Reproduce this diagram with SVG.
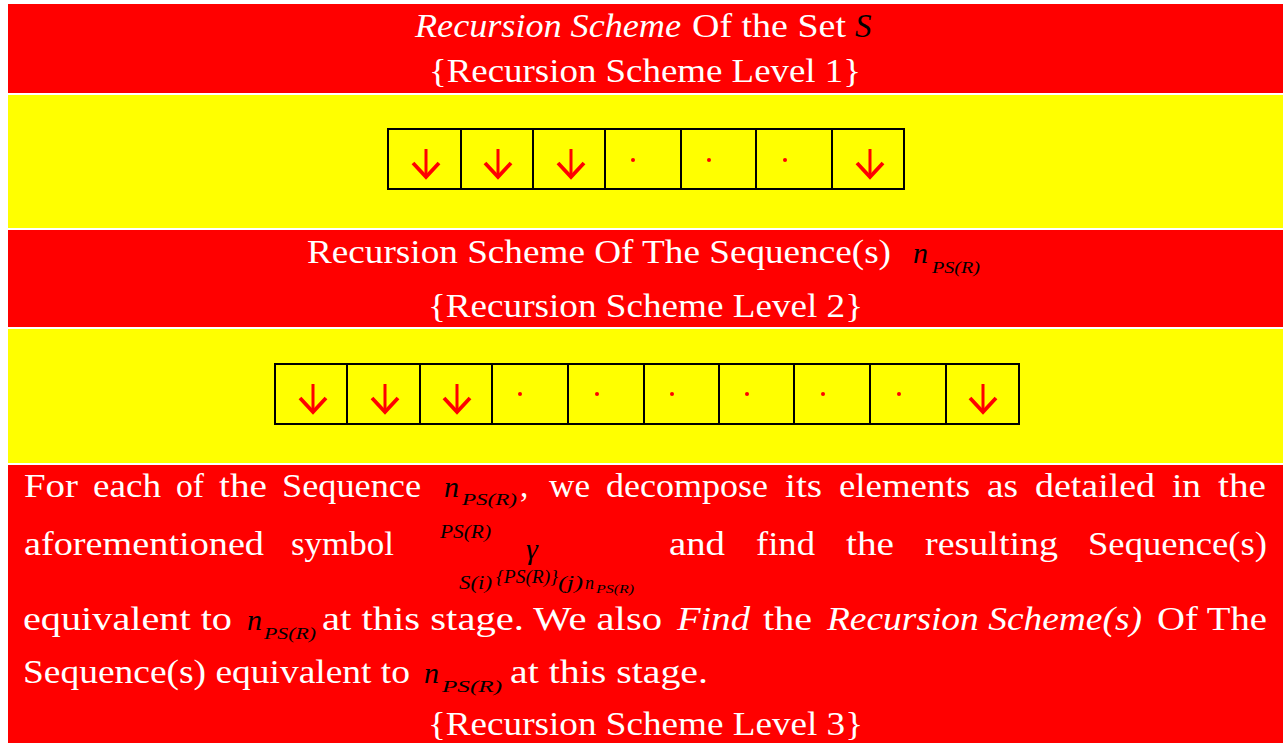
<svg xmlns="http://www.w3.org/2000/svg" xmlns:xlink="http://www.w3.org/1999/xlink" width="1283" height="743" viewBox="0 0 1283 743">
<style>
.red{fill:#FF0000}
.yel{fill:#FFFF00}
.t{font-family:'Liberation Serif','DejaVu Serif',serif;font-size:33px;fill:#FFFFFF}
.it{font-style:italic}
.m{font-family:'Liberation Serif','DejaVu Serif',serif;font-style:italic;fill:#000000}
.box{fill:none;stroke:#000000;stroke-width:2}
.div{stroke:#000000;stroke-width:2}
.dot{fill:#FF0000}
</style>
<defs>
<g id="arr">
<path d="M0,0 V28" fill="none" stroke="#FF0000" stroke-width="3"/>
<path d="M-13,14 L0,28 L13,14" fill="none" stroke="#FF0000" stroke-width="3.8" stroke-linejoin="miter"/>
</g>
</defs>
<rect width="1283" height="743" fill="#FFFFFF"/>

<g id="panel-level1-title">
<rect class="red" x="8" y="4" width="1275" height="89"/>
<text class="t it" font-family="Liberation Serif, DejaVu Serif, serif" x="415" y="37" textLength="266" lengthAdjust="spacingAndGlyphs">Recursion Scheme</text>
<text class="t" font-family="Liberation Serif, DejaVu Serif, serif" x="692" y="37" textLength="154" lengthAdjust="spacingAndGlyphs">Of the Set</text>
<text class="m" font-family="Liberation Serif, DejaVu Serif, serif" x="855" y="37" font-size="33">S</text>
<text class="t" font-family="Liberation Serif, DejaVu Serif, serif" x="429" y="82" textLength="432" lengthAdjust="spacingAndGlyphs">{Recursion Scheme Level 1}</text>
</g>

<g id="panel-level1-cells">
<rect class="yel" x="8" y="95" width="1275" height="133"/>
<rect class="box" x="388" y="129" width="516" height="60"/>
<path class="div" d="M461,129V189M533,129V189M605,129V189M681,129V189M756,129V189M832,129V189"/>
<use xlink:href="#arr" x="426" y="149"/>
<use xlink:href="#arr" x="498" y="149"/>
<use xlink:href="#arr" x="571" y="149"/>
<circle class="dot" cx="633" cy="160" r="2"/>
<circle class="dot" cx="709" cy="160" r="2"/>
<circle class="dot" cx="785" cy="160" r="2"/>
<use xlink:href="#arr" x="870" y="149"/>
</g>

<g id="panel-level2-title" font-family="Liberation Serif, DejaVu Serif, serif">
<rect class="red" x="8" y="230" width="1275" height="97"/>
<text class="t" x="307" y="263" textLength="584" lengthAdjust="spacingAndGlyphs">Recursion Scheme Of The Sequence(s)</text>
<text class="m" x="913" y="263" font-size="30">n</text>
<text class="m" x="932" y="273" font-size="16" textLength="48" lengthAdjust="spacingAndGlyphs">PS(R)</text>
<text class="t" x="428" y="317" textLength="435" lengthAdjust="spacingAndGlyphs">{Recursion Scheme Level 2}</text>
</g>

<g id="panel-level2-cells">
<rect class="yel" x="8" y="329" width="1275" height="134"/>
<rect class="box" x="275" y="364" width="744" height="60"/>
<path class="div" d="M347,364V424M420,364V424M492,364V424M568,364V424M644,364V424M719,364V424M794,364V424M870,364V424M946,364V424"/>
<use xlink:href="#arr" x="313" y="384"/>
<use xlink:href="#arr" x="385" y="384"/>
<use xlink:href="#arr" x="457" y="384"/>
<circle class="dot" cx="520" cy="394" r="2"/>
<circle class="dot" cx="597" cy="394" r="2"/>
<circle class="dot" cx="672" cy="394" r="2"/>
<circle class="dot" cx="747" cy="394" r="2"/>
<circle class="dot" cx="823" cy="394" r="2"/>
<circle class="dot" cx="899" cy="394" r="2"/>
<use xlink:href="#arr" x="983" y="384"/>
</g>

<g id="panel-level3-text" font-family="Liberation Serif, DejaVu Serif, serif">
<rect class="red" x="8" y="465" width="1275" height="278"/>
<text class="t" x="24" y="497" textLength="54" lengthAdjust="spacingAndGlyphs">For</text>
<text class="t" x="93" y="497" textLength="68" lengthAdjust="spacingAndGlyphs">each</text>
<text class="t" x="176" y="497" textLength="28" lengthAdjust="spacingAndGlyphs">of</text>
<text class="t" x="219" y="497" textLength="48" lengthAdjust="spacingAndGlyphs">the</text>
<text class="t" x="282" y="497" textLength="139" lengthAdjust="spacingAndGlyphs">Sequence</text>
<text class="m" x="444" y="497" font-size="30">n</text>
<text class="m" x="462" y="505" font-size="16" textLength="55" lengthAdjust="spacingAndGlyphs">PS(R)</text>
<text class="t" x="520" y="497">,</text>
<text class="t" x="549" y="497" textLength="41" lengthAdjust="spacingAndGlyphs">we</text>
<text class="t" x="606" y="497" textLength="162" lengthAdjust="spacingAndGlyphs">decompose</text>
<text class="t" x="785" y="497" textLength="37" lengthAdjust="spacingAndGlyphs">its</text>
<text class="t" x="839" y="497" textLength="131" lengthAdjust="spacingAndGlyphs">elements</text>
<text class="t" x="987" y="497" textLength="31" lengthAdjust="spacingAndGlyphs">as</text>
<text class="t" x="1035" y="497" textLength="120" lengthAdjust="spacingAndGlyphs">detailed</text>
<text class="t" x="1172" y="497" textLength="29" lengthAdjust="spacingAndGlyphs">in</text>
<text class="t" x="1218" y="497" textLength="48" lengthAdjust="spacingAndGlyphs">the</text>
<text class="t" x="24" y="555" textLength="240" lengthAdjust="spacingAndGlyphs">aforementioned</text>
<text class="t" x="291" y="555" textLength="103" lengthAdjust="spacingAndGlyphs">symbol</text>
<text class="m" x="440" y="538" font-size="18" textLength="51" lengthAdjust="spacingAndGlyphs">PS(R)</text>
<text class="m" x="526" y="559" font-size="30">γ</text>
<text class="m" x="459" y="589" font-size="18" textLength="33" lengthAdjust="spacingAndGlyphs">S(i)</text>
<text class="m" x="496" y="583" font-size="18" textLength="62" lengthAdjust="spacingAndGlyphs">{PS(R)}</text>
<text class="m" x="558" y="589" font-size="18" textLength="25" lengthAdjust="spacingAndGlyphs">(j)</text>
<text class="m" x="585" y="589" font-size="18">n</text>
<text class="m" x="596" y="593" font-size="13" textLength="38" lengthAdjust="spacingAndGlyphs">PS(R)</text>
<text class="t" x="669" y="555" textLength="56" lengthAdjust="spacingAndGlyphs">and</text>
<text class="t" x="756" y="555" textLength="59" lengthAdjust="spacingAndGlyphs">find</text>
<text class="t" x="846" y="555" textLength="48" lengthAdjust="spacingAndGlyphs">the</text>
<text class="t" x="925" y="555" textLength="133" lengthAdjust="spacingAndGlyphs">resulting</text>
<text class="t" x="1088" y="555" textLength="179" lengthAdjust="spacingAndGlyphs">Sequence(s)</text>
<text class="t" x="23" y="630" textLength="209" lengthAdjust="spacingAndGlyphs">equivalent to</text>
<text class="m" x="247" y="630" font-size="30">n</text>
<text class="m" x="264" y="639" font-size="16" textLength="52" lengthAdjust="spacingAndGlyphs">PS(R)</text>
<text class="t" x="322" y="630" textLength="340" lengthAdjust="spacingAndGlyphs">at this stage. We also</text>
<text class="t it" x="677" y="630" textLength="73" lengthAdjust="spacingAndGlyphs">Find</text>
<text class="t" x="763" y="630" textLength="49" lengthAdjust="spacingAndGlyphs">the</text>
<text class="t it" x="827" y="630" textLength="315" lengthAdjust="spacingAndGlyphs">Recursion Scheme(s)</text>
<text class="t" x="1157" y="630" textLength="110" lengthAdjust="spacingAndGlyphs">Of The</text>
<text class="t" x="23" y="683" textLength="387" lengthAdjust="spacingAndGlyphs">Sequence(s) equivalent to</text>
<text class="m" x="424" y="683" font-size="30">n</text>
<text class="m" x="442" y="692" font-size="16" textLength="60" lengthAdjust="spacingAndGlyphs">PS(R)</text>
<text class="t" x="510" y="683" textLength="198" lengthAdjust="spacingAndGlyphs">at this stage.</text>
<text class="t" x="428" y="735" textLength="435" lengthAdjust="spacingAndGlyphs">{Recursion Scheme Level 3}</text>
</g>
</svg>
